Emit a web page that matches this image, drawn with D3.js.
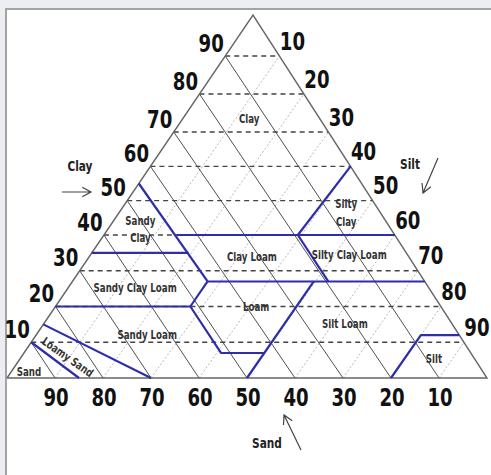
<!DOCTYPE html>
<html>
<head>
<meta charset="utf-8">
<script src="https://cdn.jsdelivr.net/npm/d3@7"></script>
<style>
  html,body{margin:0;padding:0;background:#eceef1;}
  svg{display:block;}
  text{font-family:"Liberation Sans Narrow","DejaVu Sans Condensed","Liberation Sans",sans-serif;font-weight:bold;}
</style>
</head>
<body>
<svg id="chart" width="491" height="475"></svg>
<script>
// tick values on the three sides
const clayTicks = [10,20,30,40,50,60,70,80,90]
const siltTicks = [10,20,30,40,50,60,70,80,90]
const sandTicks = [90,80,70,60,50,40,30,20,10]

// texture class borders as [clay, silt] points
const borders = [
  [[10,0],[0,15]],
  [[15,0],[0,30]],
  [[20,0],[20,28]],
  [[20,28],[27,28]],
  [[20,28],[7,41],[7,50]],
  [[0,50],[27,50]],
  [[55,0],[27,28]],
  [[35,0],[35,20]],
  [[40,15],[40,60]],
  [[27,28],[27,73]],
  [[40,40],[60,40]],
  [[40,40],[27,53]],
  [[0,80],[12,80],[12,88]]
]

// class names, with where they sit as [clay, silt]
const classNames = [
  {lines:["Clay"], at:[73.4,12.9]},
  {lines:["Sandy","Clay"], at:[41.7,6.7]},
  {lines:["Silty","Clay"], at:[46.5,46.5]},
  {lines:["Sandy Clay Loam"], at:[25.2,13.9]},
  {lines:["Clay Loam"], at:[33.8,33.7]},
  {lines:["Silty Clay Loam"], at:[34.4,53.5]},
  {lines:["Loam"], at:[19.9,41.7]},
  {lines:["Silt Loam"], at:[15.1,62.6]},
  {lines:["Sandy Loam"], at:[12.0,23.1]},
  {lines:["Loamy Sand"], at:[5.9,9.7], rotate:35},
  {lines:["Sand"], at:[1.7,3.7]},
  {lines:["Silt"], at:[5.3,86.2]}
]

const svg = d3.select("#chart")
const squeeze = 0.84

// page frame
svg.append("rect").attr("x",6).attr("y",9).attr("width",492).attr("height",475)
  .attr("fill","#fff").attr("stroke","#a3a3a3").attr("stroke-width",2)

// clay goes up, silt goes right inside each row
const yScale = d3.scaleLinear().domain([0,40,70,90,100]).range([378,235,132,56,15])
const xScale = d3.scaleLinear().domain([0,100]).range([7,487])
const apexX = 253

function pt(clay, silt){
  let y = yScale(clay)
  let f = (yScale(0) - y) / (yScale(0) - yScale(100))
  let u = clay >= 100 ? 0 : silt / (100 - clay)
  let left = xScale(0) + f * (apexX - xScale(0))
  let right = xScale(100) + f * (apexX - xScale(100))
  return [left + u * (right - left), y]
}

const line = d3.line().x(d=>pt(d[0],d[1])[0]).y(d=>pt(d[0],d[1])[1])
const g = svg.append("g")

// dotted silt lines
g.selectAll(".silt").data(siltTicks).enter().append("path")
  .attr("d",d=>line([[0,d],[100-d,d]]))
  .attr("stroke","#b8b8b8").attr("stroke-width",1).attr("stroke-dasharray","2,2").attr("fill","none")

// solid sand lines
g.selectAll(".sand").data(sandTicks).enter().append("path")
  .attr("d",d=>line([[0,100-d],[100-d,0]]))
  .attr("stroke","#505050").attr("stroke-width",1).attr("fill","none")

// dashed clay lines
g.selectAll(".clay").data(clayTicks).enter().append("path")
  .attr("d",d=>line([[d,0],[d,100-d]]))
  .attr("stroke","#444").attr("stroke-width",1.3).attr("stroke-dasharray","5,4").attr("fill","none")

// outline
g.append("path").attr("d",line([[0,0],[100,0],[0,100],[0,0]]))
  .attr("stroke","#666").attr("stroke-width",1.4).attr("fill","none")

// class borders
g.selectAll(".border").data(borders).enter().append("path")
  .attr("d",d=>line(d))
  .attr("stroke","#2e2eaa").attr("stroke-width",2.2).attr("fill","none")
  .attr("stroke-linejoin","round")

// tick labels
function tickText(data, place){
  g.selectAll(null).data(data).enter().append("text")
    .attr("transform",d=>{let p = place(d); return "translate("+p[0]+","+p[1]+") scale("+squeeze+",1)"})
    .attr("text-anchor","middle").attr("dominant-baseline","central")
    .style("font-size","24px").attr("fill","#111").text(d=>d)
}
tickText(clayTicks, d=>{let p = pt(d,0); return [p[0]-14, p[1]-13]})
tickText(siltTicks, d=>{let p = pt(100-d,d); return [p[0]+13, p[1]-15]})
tickText(sandTicks, d=>{let p = pt(0,100-d); return [p[0]+1, p[1]+19]})

// class names
classNames.forEach(function(c){
  let p = pt(c.at[0], c.at[1])
  let t = g.append("text")
    .attr("transform","translate("+p[0]+","+p[1]+") rotate("+(c.rotate||0)+") scale("+squeeze+",1)")
    .attr("text-anchor","middle").attr("dominant-baseline","central")
    .style("font-size","11.5px").attr("fill","#333")
  let n = c.lines.length
  c.lines.forEach(function(s,i){
    t.append("tspan").attr("x",0).attr("y",(i-(n-1)/2)*18).text(s)
  })
})

// side titles and arrows
function arrow(x1,y1,x2,y2){
  let a = Math.atan2(y2-y1,x2-x1), h = 10
  let p = "M"+x1+","+y1+"L"+x2+","+y2
  p += "M"+(x2-h*Math.cos(a-0.5))+","+(y2-h*Math.sin(a-0.5))+"L"+x2+","+y2
  p += "L"+(x2-h*Math.cos(a+0.5))+","+(y2-h*Math.sin(a+0.5))
  svg.append("path").attr("d",p).attr("stroke","#444").attr("stroke-width",1.2).attr("fill","none")
}
const titles = [["Clay",80,166],["Silt",410,164],["Sand",267,443]]
svg.selectAll(".title").data(titles).enter().append("text")
  .attr("transform",d=>"translate("+d[1]+","+d[2]+") scale("+squeeze+",1)")
  .attr("text-anchor","middle").attr("dominant-baseline","central")
  .style("font-size","14px").attr("fill","#222").text(d=>d[0])
arrow(62,192,91,192)
arrow(438,158,423,193)
arrow(301,450,284,415)
</script>
</body>
</html>
